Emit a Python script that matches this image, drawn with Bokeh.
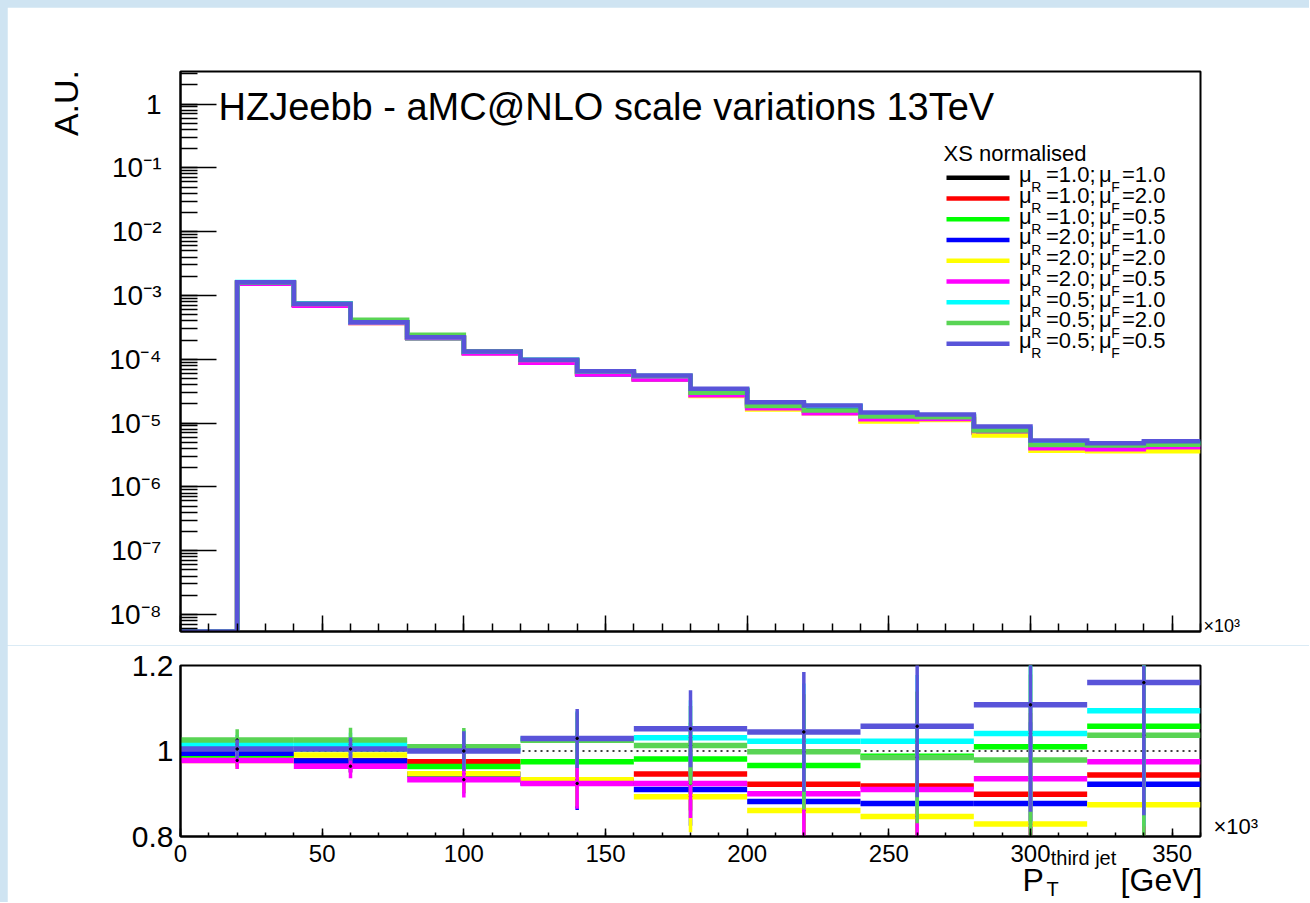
from bokeh.plotting import figure
from bokeh.layouts import column
from bokeh.core.properties import value
from bokeh.models import (Range1d, SingleIntervalTicker, FixedTicker, LogTicker, LinearAxis,
                          CustomJSTickFormatter, BoxAnnotation, Span, ColumnDataSource)
from bokeh.embed import file_html
from bokeh.resources import INLINE
import math

FONT = "Liberation Sans"

# ---------------- data ----------------
TOP_EDGES = [0, 20, 40, 60, 80, 100, 120, 140, 160, 180, 200, 220, 240, 260, 280, 300, 320, 340, 360]
RATIO_EDGES = [0, 40, 80, 120, 160, 200, 240, 280, 320, 360]

MU_R = ["1.0", "1.0", "1.0", "2.0", "2.0", "2.0", "0.5", "0.5", "0.5"]
MU_F = ["1.0", "2.0", "0.5", "1.0", "2.0", "0.5", "1.0", "2.0", "0.5"]
COLORS = ["#000000", "#ff0000", "#00ff00", "#0000ff", "#ffff00",
          "#ff00ff", "#00ffff", "#59d454", "#5954d9"]

# normalised distributions (A.U.), 20 GeV bins
top_R10_F10 = [0, 1.60e-3, 7.34e-4, 3.78e-4, 2.21e-4, 1.32e-4, 9.5e-5, 6.3e-5, 5.28e-5, 3.27e-5,
               2.03e-5, 1.80e-5, 1.38e-5, 1.285e-5, 7.94e-6, 4.78e-6, 4.16e-6, 4.47e-6]
top_R10_F20 = [0, 1.576e-3, 7.17e-4, 3.69e-4, 2.155e-4, 1.287e-4, 8.84e-5, 5.86e-5, 4.99e-5, 3.09e-5,
               1.87e-5, 1.66e-5, 1.267e-5, 1.18e-5, 7.14e-6, 4.30e-6, 3.93e-6, 4.22e-6]
top_R10_F05 = [0, 1.581e-3, 7.38e-4, 3.80e-4, 2.16e-4, 1.27e-4, 9.26e-5, 6.14e-5, 5.18e-5, 3.21e-5,
               1.96e-5, 1.74e-5, 1.363e-5, 1.27e-5, 8.02e-6, 4.83e-6, 4.40e-6, 4.73e-6]
top_R20_F10 = [0, 1.591e-3, 7.17e-4, 3.73e-4, 2.16e-4, 1.25e-4, 8.79e-5, 5.83e-5, 4.80e-5, 2.98e-5,
               1.79e-5, 1.59e-5, 1.21e-5, 1.127e-5, 6.96e-6, 4.19e-6, 3.84e-6, 4.12e-6]
top_R20_F20 = [0, 1.52e-3, 7.27e-4, 3.74e-4, 2.18e-4, 1.24e-4, 8.9e-5, 5.9e-5, 4.85e-5, 2.64e-5,
               1.63e-5, 1.42e-5, 1.06e-5, 1.12e-5, 6.36e-6, 3.69e-6, 3.61e-6, 3.62e-6]
top_R20_F05 = [0, 1.52e-3, 6.86e-4, 3.75e-4, 2.18e-4, 1.23e-4, 8.8e-5, 5.83e-5, 4.81e-5, 2.72e-5,
               1.71e-5, 1.42e-5, 1.15e-5, 1.16e-5, 7.53e-6, 4.01e-6, 3.88e-6, 4.18e-6]
top_R05_F10 = [0, 1.625e-3, 7.45e-4, 3.84e-4, 2.22e-4, 1.327e-4, 9.77e-5, 6.48e-5, 5.44e-5, 3.37e-5,
               2.08e-5, 1.84e-5, 1.41e-5, 1.315e-5, 8.27e-6, 4.98e-6, 4.55e-6, 4.89e-6]
top_R05_F20 = [0, 1.60e-3, 7.36e-4, 4.16e-4, 2.42e-4, 1.33e-4, 9.7e-5, 6.45e-5, 5.45e-5, 2.98e-5,
               1.84e-5, 1.57e-5, 1.26e-5, 1.23e-5, 7.62e-6, 4.54e-6, 4.43e-6, 4.56e-6]
top_R05_F05 = [0, 1.61e-3, 7.38e-4, 3.80e-4, 2.21e-4, 1.32e-4, 9.8e-5, 6.5e-5, 5.55e-5, 3.44e-5,
               2.12e-5, 1.88e-5, 1.46e-5, 1.36e-5, 8.8e-6, 5.3e-6, 4.82e-6, 5.19e-6]

# ratio to nominal, 40 GeV bins
ratio_R10_F20 = [0.985, 0.977, 0.975, 0.930, 0.946, 0.922, 0.918, 0.899, 0.944]
ratio_R10_F05 = [0.988, 1.005, 0.964, 0.975, 0.981, 0.966, 0.988, 1.010, 1.058]
ratio_R20_F10 = [0.9946, 0.9767, 0.945, 0.925, 0.910, 0.882, 0.877, 0.877, 0.922]
ratio_R20_F20 = [0.978, 0.9907, 0.9465, 0.933, 0.893, 0.861, 0.847, 0.829, 0.874]
ratio_R20_F05 = [0.978, 0.9643, 0.933, 0.924, 0.924, 0.900, 0.910, 0.935, 0.975]
ratio_R05_F10 = [1.0155, 1.0155, 1.005, 1.028, 1.031, 1.023, 1.023, 1.041, 1.094]
ratio_R05_F20 = [1.0256, 1.0256, 1.010, 1.025, 1.013, 0.998, 0.985, 0.979, 1.037]
ratio_R05_F05 = [1.0047, 1.0047, 1.000, 1.0295, 1.052, 1.0446, 1.058, 1.108, 1.160]

err_R10_F20 = [0.022, 0.027, 0.044, 0.063, 0.085, 0.13, 0.15, 0.19, 0.24]
err_R10_F05 = [0.022, 0.027, 0.044, 0.063, 0.085, 0.13, 0.15, 0.19, 0.24]
err_R20_F10 = [0.022, 0.027, 0.044, 0.063, 0.085, 0.13, 0.15, 0.19, 0.24]
err_R20_F20 = [0.020, 0.027, 0.044, 0.063, 0.083, 0.125, 0.14, 0.18, 0.23]
err_R20_F05 = [0.020, 0.028, 0.042, 0.059, 0.081, 0.13, 0.12, 0.17, 0.21]
err_R05_F10 = [0.022, 0.027, 0.044, 0.065, 0.088, 0.135, 0.155, 0.21, 0.27]
err_R05_F20 = [0.025, 0.029, 0.044, 0.065, 0.092, 0.135, 0.154, 0.20, 0.26]
err_R05_F05 = [0.022, 0.027, 0.046, 0.069, 0.090, 0.14, 0.166, 0.25, 0.31]

TOP_SERIES = [top_R10_F10, top_R10_F20, top_R10_F05, top_R20_F10, top_R20_F20,
              top_R20_F05, top_R05_F10, top_R05_F20, top_R05_F05]
RATIO_SERIES = [None, ratio_R10_F20, ratio_R10_F05, ratio_R20_F10, ratio_R20_F20,
                ratio_R20_F05, ratio_R05_F10, ratio_R05_F20, ratio_R05_F05]
ERR_SERIES = [None, err_R10_F20, err_R10_F05, err_R20_F10, err_R20_F20,
              err_R20_F05, err_R05_F10, err_R05_F20, err_R05_F05]

TITLE = "HZJeebb - aMC@NLO scale variations 13TeV"
LEGEND_HEADER = "XS normalised"
Y_TITLE = "A.U."
X_TITLE_MAIN = ["P", "[GeV]"]
X_TITLE_SUB = "T"
X_TITLE_SUP = "third jet"
EXPONENT = "\u00d710\u00b3"

# ---------------- layout constants ----------------
PAD = 7                      # light-blue page band (top / left)
W = 1302
H1, H2 = 638, 257
X_MIN, X_MAX = 0, 360
Y_MIN, Y_MAX = 5.4e-9, 3.232
R_MIN, R_MAX = 0.8, 1.2
FL, FR = 180, 1200           # frame edges, page px
T_FT, T_FB = 71, 631
B_FT, B_FB = 665, 838

def dx(px):          # page x -> data x
    return X_MIN + (px - FL) * (X_MAX - X_MIN) / (FR - FL)

def dlog(py):        # page y -> data y on the log (top) panel
    lo, hi = math.log10(Y_MIN), math.log10(Y_MAX)
    return 10 ** (hi - (py - T_FT) * (hi - lo) / (T_FB - T_FT))

def dr(py):          # page y -> ratio value
    return R_MAX - (py - B_FT) * (R_MAX - R_MIN) / (B_FB - B_FT)

def sx(px): return px - FL          # screen units (frame bottom-left origin)
def sy_top(py): return T_FB - py

def style_fig(p):
    p.xgrid.visible = False
    p.ygrid.visible = False
    p.outline_line_color = "black"
    p.outline_line_width = 2
    p.background_fill_color = "white"
    p.border_fill_color = "white"
    for ax in (p.xaxis[0], p.yaxis[0]):
        ax.axis_line_width = 2
        ax.axis_line_color = "black"
        ax.major_tick_line_color = "black"
        ax.minor_tick_line_color = "black"
        ax.major_tick_line_width = 1.5
        ax.minor_tick_line_width = 1.5
        ax.major_tick_out = 0
        ax.minor_tick_out = 0
        ax.major_label_text_font = FONT
        ax.major_label_text_color = "black"

def text_axis(ticks, labels, size, standoff, orientation="horizontal"):
    """an axis without line/ticks that only carries text labels"""
    code = "const t = %s; const l = %s; let k = 0; let d = 1e99;" \
           "for (let i = 0; i < t.length; i++) { if (Math.abs(t[i]-tick) < d) { d = Math.abs(t[i]-tick); k = i; } }" \
           "return l[k];" % (repr(list(ticks)), repr(list(labels)).replace("'", '"'))
    ax = LinearAxis(ticker=FixedTicker(ticks=list(ticks), minor_ticks=[]),
                    formatter=CustomJSTickFormatter(code=code),
                    axis_line_color=None, major_tick_line_color=None, minor_tick_line_color=None,
                    major_tick_in=0, major_tick_out=0, minor_tick_in=0, minor_tick_out=0,
                    major_label_standoff=standoff, major_label_text_font=FONT,
                    major_label_text_font_size=size, major_label_text_color="black",
                    major_label_orientation=orientation)
    return ax

x_range = Range1d(X_MIN, X_MAX)

# ---------------- top panel ----------------
p1 = figure(width=W, height=H1, x_range=x_range, y_range=Range1d(Y_MIN, Y_MAX),
            y_axis_type="log", output_backend="svg", toolbar_location=None,
            min_border_left=FL - PAD, min_border_right=W - (FR - PAD),
            min_border_top=T_FT - PAD, min_border_bottom=H1 - (T_FB - PAD))
p1.margin = (PAD, 0, 0, PAD)
style_fig(p1)
p1.yaxis[0].ticker = LogTicker(num_minor_ticks=10)
p1.yaxis[0].formatter = CustomJSTickFormatter(code="""
const e = Math.round(Math.log10(tick));
if (e === 0) return "1";
const sup = {"-":"\u207b","0":"\u2070","1":"\u00b9","2":"\u00b2","3":"\u00b3","4":"\u2074",
             "5":"\u2075","6":"\u2076","7":"\u2077","8":"\u2078","9":"\u2079"};
return "10" + String(e).split("").map(c => sup[c]).join("");
""")
p1.yaxis[0].major_tick_in = 36
p1.yaxis[0].minor_tick_in = 17
p1.yaxis[0].major_label_text_font_size = "28px"
p1.yaxis[0].major_label_standoff = 19
p1.xaxis[0].ticker = SingleIntervalTicker(interval=50, num_minor_ticks=5)
p1.xaxis[0].formatter = CustomJSTickFormatter(code="return '';")
p1.xaxis[0].major_tick_in = 16
p1.xaxis[0].minor_tick_in = 8
p1.xaxis[0].major_label_standoff = 0

# "A.U." (outer left) and "x10^3" (right of the frame)
p1.add_layout(text_axis([dlog(102.5)], [Y_TITLE], "34px", 22, "vertical"), "left")
p1.add_layout(text_axis([dlog(625)], [EXPONENT], "18px", 3), "right")

for vals, col in zip(TOP_SERIES, COLORS):
    ys = [v if v > 0 else Y_MIN for v in vals]
    ys = ys + [ys[-1]]
    p1.step(TOP_EDGES, ys, mode="after", line_width=4.5, line_color=col, line_join="miter")

# texts inside the frame (text glyphs, vertically centred on the caps)
p1.text(x=[dx(218)], y=[dlog(106.5)], text=[TITLE], text_font=value(FONT),
        text_font_size="38px", text_baseline="middle", text_align="left", text_color="black")
p1.text(x=[dx(943)], y=[dlog(152.5)], text=[LEGEND_HEADER], text_font=value(FONT),
        text_font_size="22px", text_baseline="middle", text_align="left", text_color="black")

main_x, main_y, main_t = [], [], []
sub_x, sub_y, sub_t = [], [], []
for i, (mr, mf, col) in enumerate(zip(MU_R, MU_F, COLORS)):
    yc = 177.3 + 20.75 * i
    p1.add_layout(BoxAnnotation(left=sx(946), right=sx(1009),
                                top=sy_top(yc - 2.25), bottom=sy_top(yc + 2.25),
                                left_units="screen", right_units="screen", top_units="screen",
                                bottom_units="screen", fill_color=col, fill_alpha=1.0,
                                line_color=None))
    for px, txt in ((1018.5, "\u03bc"), (1045.5, "=" + mr + ";"), (1098.5, "\u03bc"), (1121.5, "=" + mf)):
        main_x.append(dx(px)); main_y.append(dlog(yc - 3.2)); main_t.append(txt)
    for px, txt in ((1030.7, "R"), (1110.7, "F")):
        sub_x.append(dx(px)); sub_y.append(dlog(yc + 9.6)); sub_t.append(txt)
p1.text(x=main_x, y=main_y, text=main_t, text_font=value(FONT), text_font_size="22px",
        text_baseline="middle", text_align="left", text_color="black")
p1.text(x=sub_x, y=sub_y, text=sub_t, text_font=value(FONT), text_font_size="14px",
        text_baseline="middle", text_align="left", text_color="black")

# ---------------- ratio panel ----------------
p2 = figure(width=W, height=H2, x_range=x_range, y_range=Range1d(R_MIN, R_MAX),
            output_backend="svg", toolbar_location=None,
            min_border_left=FL - PAD, min_border_right=W - (FR - PAD),
            min_border_top=B_FT - (PAD + H1), min_border_bottom=(PAD + H1 + H2) - B_FB)
p2.margin = (0, 0, 0, PAD)
style_fig(p2)
p2.xaxis[0].ticker = SingleIntervalTicker(interval=50, num_minor_ticks=5)
p2.xaxis[0].major_tick_in = 8
p2.xaxis[0].minor_tick_in = 4
p2.xaxis[0].major_label_text_font_size = "24px"
p2.xaxis[0].major_label_standoff = 8
p2.yaxis[0].ticker = FixedTicker(ticks=[0.8, 1.0, 1.2], minor_ticks=[])
p2.yaxis[0].formatter = CustomJSTickFormatter(
    code="return (Math.abs(tick - 1) < 1e-9) ? '1' : tick.toFixed(1);")
p2.yaxis[0].major_tick_in = 0
p2.yaxis[0].minor_tick_in = 0
p2.yaxis[0].major_label_text_font_size = "30px"
p2.yaxis[0].major_label_standoff = 7

# x-axis title pieces:  P_T^{third jet} [GeV]   and the x10^3 exponent
p2.add_layout(text_axis([dx(1032.7), dx(1161)], X_TITLE_MAIN, "32px", -3), "below")
p2.add_layout(text_axis([dx(1052.1)], [X_TITLE_SUB], "20px", -23), "below")
p2.add_layout(text_axis([dx(1083)], [X_TITLE_SUP], "20px", -56), "below")
p2.add_layout(text_axis([dr(828)], [EXPONENT], "22px", 13), "right")

p2.add_layout(Span(location=1.0, dimension="width", line_color="black", line_width=1.5,
                   line_dash="2 4", level="underlay"))

lo = RATIO_EDGES[:-1]
hi = RATIO_EDGES[1:]
ctr = [(a + b) / 2 for a, b in zip(lo, hi)]
for r, e, col in zip(RATIO_SERIES, ERR_SERIES, COLORS):
    if r is None:
        continue
    src = ColumnDataSource(dict(lo=lo, hi=hi, c=ctr, r=r,
                                rl=[a - b for a, b in zip(r, e)],
                                rh=[a + b for a, b in zip(r, e)]))
    p2.segment(x0="lo", y0="r", x1="hi", y1="r", source=src, line_width=5.5, line_color=col)
    p2.segment(x0="c", y0="rl", x1="c", y1="rh", source=src, line_width=3.5, line_color=col)
    p2.scatter(x="c", y="r", source=src, size=2.5, color="black")

layout = column(p1, p2, spacing=0, styles={"background-color": "#cfe4f2"})
open("out.html", "w").write(file_html(layout, INLINE))
